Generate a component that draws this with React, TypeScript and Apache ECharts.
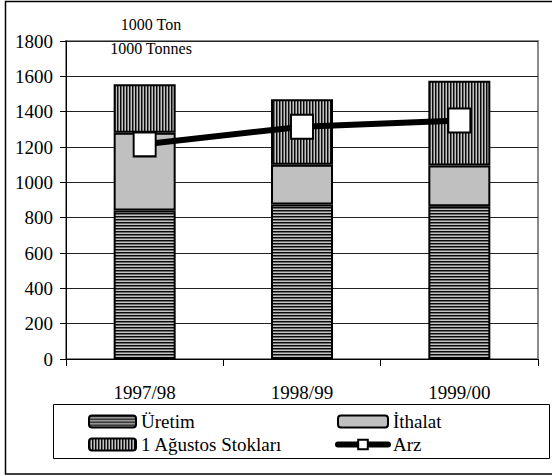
import React, { useEffect, useRef } from "react";
import * as echarts from "echarts";

const categories = ["1997/98", "1998/99", "1999/00"];
const uretim = [840, 875, 865];
const ithalat = [440, 225, 230];
const stoklar = [275, 370, 480];
const arz = [1215, 1315, 1350];
const unitLines = ["1000 Ton", "1000 Tonnes"];

const FONT = "Liberation Serif";

function stripes(horizontal: boolean) {
  const c = document.createElement("canvas");
  c.width = horizontal ? 4 : 3;
  c.height = horizontal ? 3 : 4;
  const ctx = c.getContext("2d")!;
  const cols = ["#0a0a0a", "#6a6a6a", "#c4c4c4"];
  cols.forEach((col, i) => {
    ctx.fillStyle = col;
    if (horizontal) ctx.fillRect(0, i, 4, 1);
    else ctx.fillRect(i, 0, 1, 4);
  });
  return c;
}

export default function App() {
  const ref = useRef<HTMLDivElement>(null);
  useEffect(() => {
    if (!ref.current) return;
    const chart = echarts.init(ref.current, undefined, { renderer: "svg" });
    const hPat = { image: stripes(true), repeat: "repeat" };
    const vPat = { image: stripes(false), repeat: "repeat" };
    const barStyle = { borderColor: "#000", borderWidth: 2 };
    const legendText = { fontFamily: FONT, fontSize: 19, color: "#000" };
    chart.setOption({
      animation: false,
      backgroundColor: "#fff",
      textStyle: { fontFamily: FONT },
      grid: {
        left: 66,
        right: 14,
        top: 41,
        bottom: 117,
        show: true,
        borderColor: "#8a8a8a",
        borderWidth: 2,
        backgroundColor: "transparent",
      },
      legend: [
        {
          data: ["Üretim", "1 Ağustos Stokları"],
          orient: "vertical",
          left: 83,
          top: 407,
          itemWidth: 47,
          itemHeight: 12,
          itemGap: 4,
          textStyle: legendText,
        },
        {
          data: ["İthalat", "Arz"],
          orient: "vertical",
          left: 330,
          top: 407,
          itemWidth: 50,
          itemHeight: 12,
          itemGap: 4,
          lineStyle: { width: 6, color: "#000", cap: "round" },
          textStyle: legendText,
        },
      ],
      graphic: [
        {
          type: "rect",
          shape: { x: 5.5, y: 1.5, width: 560, height: 472.5 },
          style: { fill: "none", stroke: "#000", lineWidth: 1.5 },
          silent: true,
          z: 100,
        },
        {
          type: "rect",
          shape: { x: 53.5, y: 404.5, width: 496, height: 54 },
          style: { fill: "none", stroke: "#000", lineWidth: 1 },
          silent: true,
        },
        {
          type: "text",
          x: 151,
          y: 24,
          style: { text: unitLines[0], fontFamily: FONT, fontSize: 16, fill: "#000", textAlign: "center", textVerticalAlign: "middle" },
          z: 100,
        },
        {
          type: "text",
          x: 151,
          y: 48,
          style: { text: unitLines[1], fontFamily: FONT, fontSize: 16, fill: "#000", textAlign: "center", textVerticalAlign: "middle" },
          z: 100,
        },
      ],
      xAxis: {
        type: "category",
        data: categories,
        boundaryGap: true,
        axisLine: { lineStyle: { color: "#000", width: 1 } },
        axisTick: { show: true, length: 7, lineStyle: { color: "#000" } },
        axisLabel: { fontFamily: FONT, fontSize: 19, color: "#000", margin: 24 },
        splitLine: { show: false },
      },
      yAxis: {
        type: "value",
        min: 0,
        max: 1800,
        interval: 200,
        axisLine: { show: true, lineStyle: { color: "#000", width: 1 } },
        axisTick: { show: true, length: 6, lineStyle: { color: "#000" } },
        axisLabel: {
          fontFamily: FONT,
          fontSize: 19,
          color: "#000",
          margin: 13,
          formatter: (v: number) => String(v),
        },
        splitLine: { show: true, lineStyle: { color: "#222", width: 1 } },
      },
      series: [
        {
          name: "Üretim",
          type: "bar",
          stack: "total",
          barWidth: 62,
          data: uretim,
          itemStyle: { color: hPat, ...barStyle },
        },
        {
          name: "İthalat",
          type: "bar",
          stack: "total",
          barWidth: 62,
          data: ithalat,
          itemStyle: { color: "#c0c0c0", ...barStyle },
        },
        {
          name: "1 Ağustos Stokları",
          type: "bar",
          stack: "total",
          barWidth: 62,
          data: stoklar,
          itemStyle: { color: vPat, ...barStyle },
        },
        {
          name: "Arz",
          type: "line",
          data: arz,
          z: 10,
          symbol: "rect",
          symbolSize: [22, 24],
          showSymbol: true,
          lineStyle: { color: "#000", width: 6 },
          itemStyle: { color: "#fff", borderColor: "#000", borderWidth: 2 },
        },
      ],
    });
    return () => chart.dispose();
  }, []);
  return (
    <div
      ref={ref}
      style={{ position: "absolute", left: 0, top: 0, width: 552, height: 476 }}
    />
  );
}
